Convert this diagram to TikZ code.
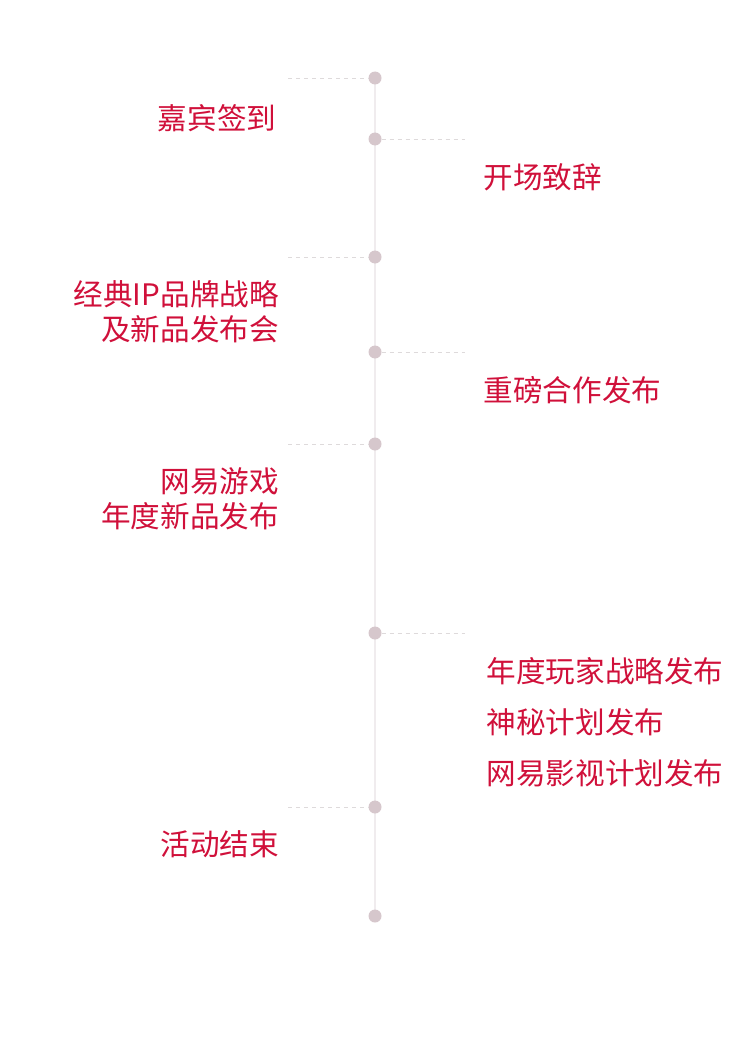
\documentclass[tikz,border=0pt]{standalone}
\usepackage{fontspec}
\setmainfont{Noto Sans CJK SC}
\usetikzlibrary{backgrounds}
\definecolor{eventred}{HTML}{D0103A}
\definecolor{dotgray}{HTML}{D6C7CC}
\definecolor{linegray}{HTML}{F0ECEE}
\definecolor{dashgray}{HTML}{DEDADB}
\begin{document}
\begin{tikzpicture}[x=1pt,y=-1pt,
    dot/.style={circle,fill=dotgray,inner sep=0pt,minimum size=13pt},
    tick/.style={dashgray,line width=0.8pt,dash pattern=on 4pt off 4pt},
    lefttext/.style={anchor=east,inner sep=0pt,text=eventred,align=right,
        font=\fontsize{29.6}{35}\selectfont},
    righttext/.style={anchor=west,inner sep=0pt,text=eventred,align=left,
        font=\fontsize{29.6}{35}\selectfont}]
    \useasboundingbox (0,0) rectangle (749,1046);
    % timeline dots
    \node[dot] (d1) at (375,78) {};
    \node[dot] (d2) at (375,139) {};
    \node[dot] (d3) at (375,257) {};
    \node[dot] (d4) at (375,352) {};
    \node[dot] (d5) at (375,444) {};
    \node[dot] (d6) at (375,633) {};
    \node[dot] (d7) at (375,807) {};
    \node[dot] (d8) at (375,916) {};
    \begin{pgfonlayer}{background}
        \draw[linegray,line width=1.2pt] (d1.center) -- (d8.center);
    \end{pgfonlayer}
    % dashed ticks
    \coordinate (l1) at (288,78);
    \coordinate (r2) at (465,139);
    \coordinate (l3) at (288,257);
    \coordinate (r4) at (465,352);
    \coordinate (l5) at (288,444);
    \coordinate (r6) at (465,633);
    \coordinate (l7) at (288,807);
    \draw[tick] (l1) -- (d1);
    \draw[tick] (d2) -- (r2);
    \draw[tick] (l3) -- (d3);
    \draw[tick] (d4) -- (r4);
    \draw[tick] (l5) -- (d5);
    \draw[tick] (d6) -- (r6);
    \draw[tick] (l7) -- (d7);
    % labels
    \node[lefttext] (checkin) at (276.5,118) {嘉宾签到};
    \node[righttext] (opening) at (483.5,177) {开场致辞};
    \node[lefttext] (ipbrand) at (279,311.5) {经典IP品牌战略\\及新品发布会};
    \node[righttext] (partner) at (483.5,390) {重磅合作发布};
    \node[lefttext] (games) at (279,498.5) {网易游戏\\年度新品发布};
    \node[righttext,font=\fontsize{29.6}{51}\selectfont] (plans) at (486.5,722)
        {年度玩家战略发布\\神秘计划发布\\网易影视计划发布};
    \node[lefttext] (closing) at (279,844) {活动结束};
\end{tikzpicture}
\end{document}
